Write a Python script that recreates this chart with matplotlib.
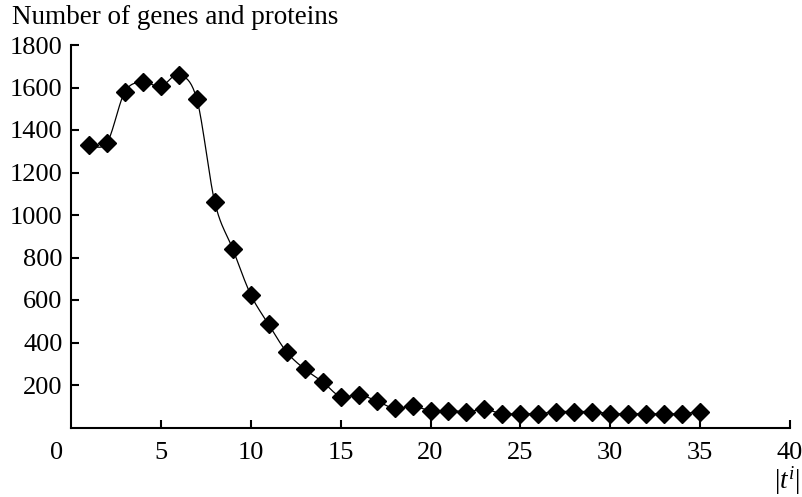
import numpy as np
import matplotlib
matplotlib.use("Agg")
import matplotlib.pyplot as plt
from matplotlib.transforms import ScaledTranslation

plt.rcParams['font.family'] = ['Liberation Serif', 'DejaVu Serif']
plt.rcParams['mathtext.fontset'] = 'custom'
plt.rcParams['mathtext.rm'] = 'Liberation Serif'
plt.rcParams['mathtext.it'] = 'Liberation Serif:italic'

# data
ti_size = list(range(1, 36))
n_genes = [1330, 1340, 1580, 1625, 1605, 1660, 1545, 1060, 840, 625,
           485, 355, 275, 215, 145, 155, 125, 90, 100, 80,
           80, 75, 85, 65, 65, 65, 75, 75, 75, 65,
           65, 65, 65, 65, 75]
x_ticks = [0, 5, 10, 15, 20, 25, 30, 35, 40]
y_ticks = [200, 400, 600, 800, 1000, 1200, 1400, 1600, 1800]


def smooth(x, y, n=20):
    # catmull-rom style smoothing like the spreadsheet "smoothed line"
    x = np.asarray(x, float)
    y = np.asarray(y, float)
    px = np.concatenate([[x[0]], x, [x[-1]]])
    py = np.concatenate([[y[0]], y, [y[-1]]])
    xs, ys = [], []
    for i in range(1, len(px) - 2):
        t = np.linspace(0, 1, n, endpoint=False)
        for arr, out in ((px, xs), (py, ys)):
            p0, p1, p2, p3 = arr[i - 1], arr[i], arr[i + 1], arr[i + 2]
            c1 = p1 + (p2 - p0) / 6
            c2 = p2 - (p3 - p1) / 6
            out.extend((1 - t) ** 3 * p1 + 3 * (1 - t) ** 2 * t * c1
                       + 3 * (1 - t) * t ** 2 * c2 + t ** 3 * p2)
    xs.append(x[-1])
    ys.append(y[-1])
    return np.array(xs), np.array(ys)


fig = plt.figure(figsize=(8.02, 4.97), dpi=100)
ax = fig.add_axes([71 / 802, 1 - 427.5 / 497, (790 - 71) / 802, (427.5 - 45) / 497])

sx, sy = smooth(ti_size, n_genes)
ax.plot(sx, sy, color='black', lw=0.9)
ax.plot(ti_size, n_genes, ls='none', marker='D', ms=9, color='black')

ax.set_xlim(0, 40)
ax.set_ylim(0, 1800)
ax.set_xticks(x_ticks)
ax.set_yticks(y_ticks)
ax.set_xticklabels([str(v) for v in x_ticks])
ax.set_yticklabels([str(v) for v in y_ticks])
ax.spines['top'].set_visible(False)
ax.spines['right'].set_visible(False)
for s in ('left', 'bottom'):
    ax.spines[s].set_linewidth(1.5)
ax.tick_params(direction='in', length=6, width=1.5, labelsize=19)
ax.tick_params(axis='x', pad=10.5)
ax.tick_params(axis='y', pad=6)

# origin label sits left of the corner
lbl0 = ax.get_xticklabels()[0]
lbl0.set_transform(lbl0.get_transform() + ScaledTranslation(-0.14, 0, fig.dpi_scale_trans))
ax.xaxis.get_major_ticks()[0].tick1line.set_visible(False)

fig.text(12 / 802, 1 - 24 / 497, 'Number of genes and proteins', fontsize=19.5, va='baseline', ha='left')
fig.text(800 / 802, 1 - 489 / 497, r'$|t^i|$', fontsize=19.5, va='baseline', ha='right')

fig.savefig('out.png', dpi=100)
